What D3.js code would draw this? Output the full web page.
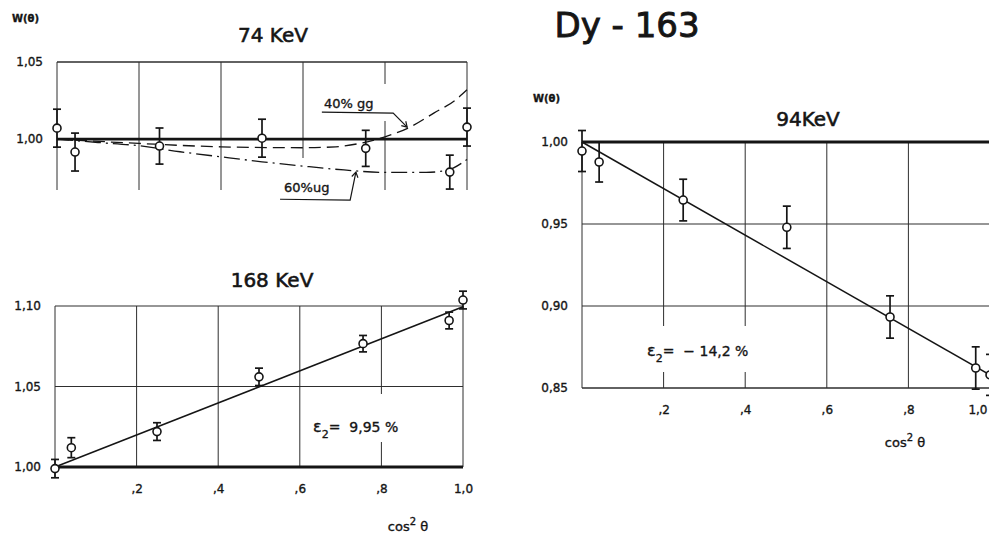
<!DOCTYPE html>
<html><head><meta charset="utf-8">
<script src="https://cdn.jsdelivr.net/npm/d3@7"></script>
<style>
body{margin:0;background:#fff}
svg{display:block;background:#fff}
text{font-family:"DejaVu Sans",sans-serif;fill:#151515;stroke:#151515;stroke-width:0.35px}
text.big{stroke-width:0.9px}
text.mid{stroke-width:0.6px}
</style>
</head><body>
<svg id="c" width="989" height="536"></svg>
<script>
// ---------------- DATA ----------------
const mainTitle = "Dy - 163";
const yAxisLabel = "W(θ)";
const xTickValues = [0.2, 0.4, 0.6, 0.8, 1.0];
const xTickLabels = [",2", ",4", ",6", ",8", "1,0"];
const gridX = [0.2, 0.4, 0.6, 0.8];

// 74 KeV panel
const kev74Title = "74 KeV";
const kev74X   = [0, 0.044, 0.25, 0.50, 0.753, 0.958, 1.0];
const kev74W   = [1.0071, 0.9916, 0.9955, 1.0006, 0.9940, 0.9786, 1.0078];
const kev74Err = [0.0123, 0.0123, 0.0117, 0.0123, 0.0117, 0.0110, 0.0123];
const kev74YTicks = [1.00, 1.05];
const kev74YTickLabels = ["1,00", "1,05"];
const gg40X = [0, 0.2, 0.4, 0.6, 0.68, 0.745, 0.8, 0.855, 0.92, 0.97, 1.0];
const gg40W = [1.000, 0.9972, 0.9950, 0.9944, 0.9950, 0.9976, 1.0015, 1.0070, 1.0170, 1.0250, 1.0320];
const ug60X = [0, 0.1, 0.2, 0.3, 0.4, 0.5, 0.6, 0.7, 0.8, 0.9, 0.95, 1.0];
const ug60W = [1.000, 0.9978, 0.9957, 0.9918, 0.9885, 0.9853, 0.9825, 0.9800, 0.9784, 0.9784, 0.9797, 0.9868];
const gg40Label = "40% gg";
const ug60Label = "60%ug";

// 168 KeV panel
const kev168Title = "168 KeV";
const kev168X   = [0, 0.04, 0.25, 0.50, 0.755, 0.966, 1.0];
const kev168W   = [0.9990, 1.0120, 1.0220, 1.0560, 1.0766, 1.0910, 1.1037];
const kev168Err = [0.0057, 0.0062, 0.0055, 0.0054, 0.0051, 0.0052, 0.0055];
const kev168Fit = [1.000, 1.0995];   // W at cos²θ = 0 and 1
const kev168YTicks = [1.00, 1.05, 1.10];
const kev168YTickLabels = ["1,00", "1,05", "1,10"];
const kev168Eps = "9,95 %";

// 94 KeV panel
const kev94Title = "94KeV";
const kev94X   = [0, 0.042, 0.248, 0.502, 0.755, 0.965, 1.0];
const kev94W   = [0.9945, 0.9878, 0.9646, 0.9480, 0.8933, 0.8622, 0.8580];
const kev94Err = [0.0125, 0.0122, 0.0127, 0.0129, 0.0129, 0.0129, 0.0125];
const kev94Fit = [1.000, 0.858];
const kev94YTicks = [0.85, 0.90, 0.95, 1.00];
const kev94YTickLabels = ["0,85", "0,90", "0,95", "1,00"];
const kev94Eps = "− 14,2 %";

// ---------------- LAYOUT ----------------
const svg = d3.select("#c");
const INK = "#151515", GRID = "#2e2e2e";

function errorBars(g, x, y, xs, ws, es) {
  const pts = xs.map((d, i) => ({x: d, w: ws[i], e: es[i]}));
  const eb = g.append("g");
  eb.selectAll("line.v").data(pts).join("line")
    .attr("x1", d => x(d.x)).attr("x2", d => x(d.x))
    .attr("y1", d => y(d.w - d.e)).attr("y2", d => y(d.w + d.e))
    .attr("stroke", INK).attr("stroke-width", 1.7);
  ["lo", "hi"].forEach(k => {
    eb.selectAll("line.c" + k).data(pts).join("line")
      .attr("x1", d => x(d.x) - 4).attr("x2", d => x(d.x) + 4)
      .attr("y1", d => y(k === "lo" ? d.w - d.e : d.w + d.e))
      .attr("y2", d => y(k === "lo" ? d.w - d.e : d.w + d.e))
      .attr("stroke", INK).attr("stroke-width", 1.7);
  });
  eb.selectAll("circle").data(pts).join("circle")
    .attr("cx", d => x(d.x)).attr("cy", d => y(d.w)).attr("r", 4)
    .attr("fill", "#fff").attr("stroke", INK).attr("stroke-width", 1.6);
}

function yAxis(g, y, xpos, ticks, labels) {
  g.append("g").attr("transform", `translate(${xpos},0)`)
    .call(d3.axisLeft(y).tickValues(ticks).tickSize(0).tickPadding(14)
      .tickFormat((d, i) => labels[i]))
    .call(a => a.select(".domain").remove())
    .selectAll("text").style("font-size", "12px").style("font-family", '"DejaVu Sans",sans-serif')
    .attr("fill", INK).attr("stroke", INK).attr("stroke-width", 0.35);
}

function xAxis(g, x, ypos, lastShift) {
  g.append("g").attr("transform", `translate(0,${ypos})`)
    .call(d3.axisBottom(x).tickValues(xTickValues).tickSize(0).tickPadding(0)
      .tickFormat((d, i) => xTickLabels[i]))
    .call(a => a.select(".domain").remove())
    .call(a => { if (lastShift) a.selectAll(".tick").filter(d => d === 1.0).select("text").attr("text-anchor", "end").attr("dx", 0).attr("x", lastShift); })
    .selectAll("text").style("font-size", "12px").style("font-family", '"DejaVu Sans",sans-serif')
    .attr("fill", INK).attr("stroke", INK).attr("stroke-width", 0.35);
}

function cosLabel(g, xc, yb) {
  const t = g.append("text").attr("x", xc).attr("y", yb).attr("text-anchor", "middle").style("font-size", "13px");
  t.append("tspan").text("cos");
  t.append("tspan").attr("dy", -6).style("font-size", "10px").text("2");
  t.append("tspan").attr("dy", 6).text(" θ");
}

function epsLabel(g, xl, yb, val) {
  const t = g.append("text").attr("x", xl).attr("y", yb).style("font-size", "14px").attr("xml:space", "preserve");
  t.append("tspan").style("font-size", "16px").text("ε");
  t.append("tspan").attr("dy", 6).style("font-size", "11px").text("2");
  t.append("tspan").attr("dy", -6).text("=  " + val);
}

function leader(g, pts, x, y) {
  const p = pts.map(d => [x(d[0]), y(d[1])]);
  g.append("path").attr("d", d3.line()(p)).attr("fill", "none").attr("stroke", INK).attr("stroke-width", 1.2);
  const a = p[p.length - 1], b = p[p.length - 2];
  const ang = Math.atan2(a[1] - b[1], a[0] - b[0]);
  const L = 6, s = 0.55;
  const h = [[a[0] - L * Math.cos(ang - s), a[1] - L * Math.sin(ang - s)], a,
             [a[0] - L * Math.cos(ang + s), a[1] - L * Math.sin(ang + s)]];
  g.append("path").attr("d", d3.line()(h)).attr("fill", "none").attr("stroke", INK).attr("stroke-width", 1.2);
}

// main title & corner label
svg.append("text").attr("class", "big").attr("x", 627).attr("y", 37).attr("text-anchor", "middle")
  .style("font-size", "34px").text(mainTitle);
svg.append("text").attr("x", 12).attr("y", 22).style("font-size", "10px").style("font-weight", "bold").text(yAxisLabel);

// ===== Panel 74 KeV =====
{
  const g = svg.append("g");
  const x = d3.scaleLinear().domain([0, 1]).range([57, 467]);
  const y = d3.scaleLinear().domain([0.967, 1.05]).range([190, 62]);
  const yBot = 0.967;
  g.selectAll("line.vg").data([0, ...gridX, 1]).join("line")
    .attr("x1", d => x(d)).attr("x2", d => x(d)).attr("y1", y(1.05)).attr("y2", y(yBot))
    .attr("stroke", GRID).attr("stroke-width", 1);
  g.append("line").attr("x1", x(0)).attr("x2", x(1)).attr("y1", y(1.05)).attr("y2", y(1.05))
    .attr("stroke", GRID).attr("stroke-width", 1.3);
  // label backgrounds (gaps in gridlines)
  g.append("rect").attr("x", 318).attr("y", 84).attr("width", 75).attr("height", 37).attr("fill", "#fff");
  g.append("rect").attr("x", 280).attr("y", 158).attr("width", 66).attr("height", 40).attr("fill", "#fff");
  const line = d3.line().x(d => x(d[0])).y(d => y(d[1])).curve(d3.curveMonotoneX);
  g.append("path").attr("d", line(gg40X.map((d, i) => [d, gg40W[i]])))
    .attr("fill", "none").attr("stroke", INK).attr("stroke-width", 1.3).attr("stroke-dasharray", "12,6");
  g.append("path").attr("d", line(ug60X.map((d, i) => [d, ug60W[i]])))
    .attr("fill", "none").attr("stroke", INK).attr("stroke-width", 1.3).attr("stroke-dasharray", "16,5,2,5");
  g.append("line").attr("x1", x(0)).attr("x2", x(1)).attr("y1", y(1)).attr("y2", y(1))
    .attr("stroke", INK).attr("stroke-width", 2.8);
  errorBars(g, x, y, kev74X, kev74W, kev74Err);
  yAxis(g, y, x(0), kev74YTicks, kev74YTickLabels);
  g.append("text").attr("class", "mid").attr("x", 273).attr("y", 42).attr("text-anchor", "middle").style("font-size", "20px").text(kev74Title);
  g.append("text").attr("x", 324).attr("y", 108).style("font-size", "13px").text(gg40Label);
  g.append("text").attr("x", 284).attr("y", 192).style("font-size", "13px").text(ug60Label);
  leader(g, [[0.646, 1.0175], [0.82, 1.0169], [0.854, 1.0078]], x, y);
  leader(g, [[0.544, 0.961], [0.715, 0.9604], [0.729, 0.9786]], x, y);
}

// ===== Panel 168 KeV =====
{
  const g = svg.append("g");
  const x = d3.scaleLinear().domain([0, 1]).range([55, 463]);
  const y = d3.scaleLinear().domain([1.0, 1.10]).range([467, 306]);
  g.selectAll("line.vg").data([0, ...gridX, 1]).join("line")
    .attr("x1", d => x(d)).attr("x2", d => x(d)).attr("y1", y(1.10)).attr("y2", d => d === 0 ? y(0.994) : y(1.0))
    .attr("stroke", GRID).attr("stroke-width", 1);
  g.selectAll("line.hg").data([1.05, 1.10]).join("line")
    .attr("x1", x(0)).attr("x2", x(1)).attr("y1", d => y(d)).attr("y2", d => y(d))
    .attr("stroke", GRID).attr("stroke-width", 1.2);
  g.append("rect").attr("x", 310).attr("y", 394).attr("width", 110).attr("height", 48).attr("fill", "#fff");
  g.append("line").attr("x1", x(0)).attr("x2", x(1)).attr("y1", y(1)).attr("y2", y(1))
    .attr("stroke", INK).attr("stroke-width", 2.8);
  g.append("line").attr("x1", x(0)).attr("x2", x(1)).attr("y1", y(kev168Fit[0])).attr("y2", y(kev168Fit[1]))
    .attr("stroke", INK).attr("stroke-width", 1.5);
  errorBars(g, x, y, kev168X, kev168W, kev168Err);
  yAxis(g, y, x(0), kev168YTicks, kev168YTickLabels);
  xAxis(g, x, 484);
  g.append("text").attr("class", "mid").attr("x", 272).attr("y", 287).attr("text-anchor", "middle").style("font-size", "20px").text(kev168Title);
  epsLabel(g, 313, 432, kev168Eps);
  cosLabel(g, 408, 531);
}

// ===== Panel 94 KeV =====
{
  const g = svg.append("g");
  const x = d3.scaleLinear().domain([0, 1]).range([582, 990]);
  const y = d3.scaleLinear().domain([0.85, 1.0]).range([388, 142]);
  g.selectAll("line.vg").data([0, ...gridX, 1]).join("line")
    .attr("x1", d => x(d)).attr("x2", d => x(d)).attr("y1", y(1.0)).attr("y2", y(0.85))
    .attr("stroke", GRID).attr("stroke-width", 1);
  g.selectAll("line.hg").data([0.85, 0.90, 0.95]).join("line")
    .attr("x1", x(0)).attr("x2", 989).attr("y1", d => y(d)).attr("y2", d => y(d))
    .attr("stroke", GRID).attr("stroke-width", d => d === 0.85 ? 1.5 : 1.2);
  g.append("rect").attr("x", 640).attr("y", 326).attr("width", 122).attr("height", 46).attr("fill", "#fff");
  g.append("line").attr("x1", x(0)).attr("x2", 989).attr("y1", y(1)).attr("y2", y(1))
    .attr("stroke", INK).attr("stroke-width", 2.8);
  g.append("line").attr("x1", x(0)).attr("x2", x(1)).attr("y1", y(kev94Fit[0])).attr("y2", y(kev94Fit[1]))
    .attr("stroke", INK).attr("stroke-width", 1.5);
  errorBars(g, x, y, kev94X, kev94W, kev94Err);
  yAxis(g, y, x(0), kev94YTicks, kev94YTickLabels);
  xAxis(g, x, 405, -3);
  g.append("text").attr("class", "mid").attr("x", 808).attr("y", 126).attr("text-anchor", "middle").style("font-size", "20px").text(kev94Title);
  g.append("text").attr("x", 533).attr("y", 102).style("font-size", "10px").style("font-weight", "bold").text(yAxisLabel);
  epsLabel(g, 647, 356, kev94Eps);
  cosLabel(g, 905, 447);
}
</script>
</body></html>
